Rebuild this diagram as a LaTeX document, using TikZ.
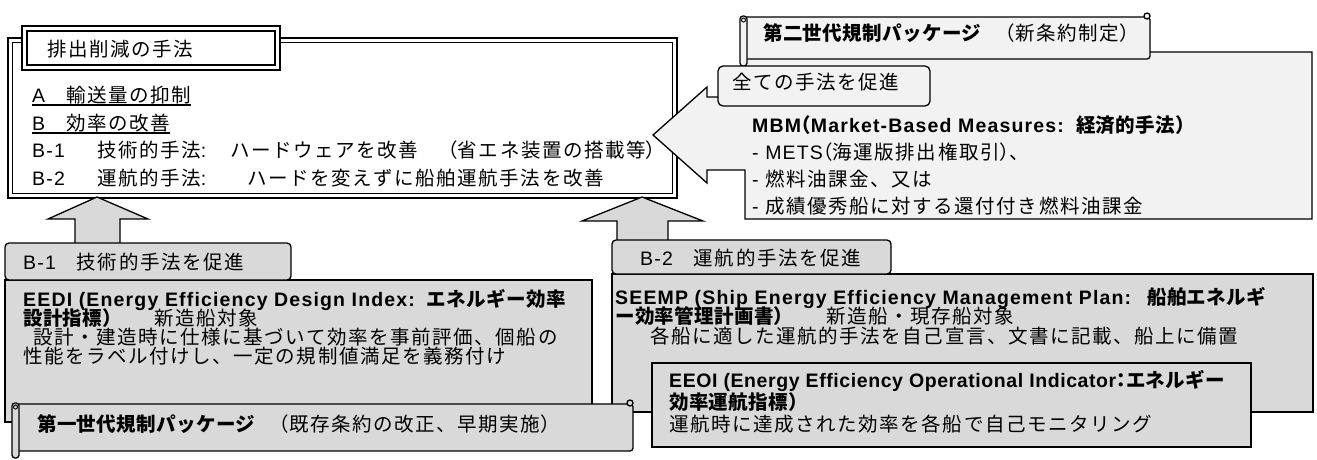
\documentclass[tikz,border=0pt]{standalone}
\usepackage{fontspec}
\setmainfont{Liberation Sans}[LetterSpace=6]
\newfontfamily\jf{Noto Sans CJK JP}[UprightFeatures={LetterSpace=8},BoldFeatures={LetterSpace=2}]
\newfontfamily\jfh{Noto Sans CJK JP}[RawFeature=+halt,UprightFeatures={LetterSpace=8},BoldFeatures={LetterSpace=2}]
\definecolor{gD}{HTML}{D9D9D9}
\definecolor{gL}{HTML}{F2F2F2}
\newcommand\fs{\fontsize{19.5pt}{19.5pt}\selectfont}
\newcommand\ulx[1]{\setbox0\hbox{#1}\rlap{\rule[-3.5pt]{\wd0}{1.3pt}}\box0}
\newcommand\tightls[1]{{\addfontfeature{LetterSpace=3}#1}}
\XeTeXinterchartokenstate=1
\newXeTeXintercharclass\jpclass
\newXeTeXintercharclass\jphclass
\newcount\jpc
\def\jprange#1#2{\jpc=#1\relax\loop\XeTeXcharclass\jpc=\jpclass\ifnum\jpc<#2\advance\jpc by 1\repeat}
\jprange{"3000}{"30FF}
\jprange{"4E00}{"9FFF}
\jprange{"FF00}{"FFEF}
\XeTeXcharclass"FF08=\jphclass
\XeTeXcharclass"FF09=\jphclass
\XeTeXcharclass"FF1A=\jphclass
\XeTeXinterchartoks 0 \jpclass = {\begingroup\jf}
\XeTeXinterchartoks 4095 \jpclass = {\begingroup\jf}
\XeTeXinterchartoks \jpclass 0 = {\endgroup}
\XeTeXinterchartoks \jpclass 4095 = {\endgroup}
\XeTeXinterchartoks 0 \jphclass = {\begingroup\jfh}
\XeTeXinterchartoks 4095 \jphclass = {\begingroup\jfh}
\XeTeXinterchartoks \jphclass 0 = {\endgroup}
\XeTeXinterchartoks \jphclass 4095 = {\endgroup}
\XeTeXinterchartoks \jpclass \jphclass = {\endgroup\begingroup\jfh}
\XeTeXinterchartoks \jphclass \jpclass = {\endgroup\begingroup\jf}
\newcommand\myscroll[5]{%
  \draw[ln, fill=#5, rounded corners=3pt] (#1+4,#2) -- (#3,#2) -- (#3,#4) -- (#1+4,#4) -- cycle;
  \draw[ln, fill=#5] (#3-3,#2-1) circle (3);
  \draw[ln, fill=#5, rounded corners=3pt] (#1,#2-1) rectangle (#1+7,#4+7);
  \draw[line width=1pt] (#1+3.5,#2+3) circle (2);
}
\begin{document}
\begin{tikzpicture}[x=1pt,y=-1pt,
  t/.style={anchor=base west, inner sep=0pt, font=\fs},
  ln/.style={line width=1.3pt, line join=miter}]
\useasboundingbox (0,0) rectangle (1317,459);
% main box
\fill[white] (8,38) rectangle (677,198);
\draw[line width=2pt] (8,38) rectangle (677,198);
\draw[line width=1.2pt] (12.5,42.5) rectangle (672.5,193.5);
\draw[line width=2pt, fill=white] (22,26) rectangle (280,70);
\draw[line width=1.6pt] (27,31) rectangle (275,65);
\node[t] (ttl) at (47,56) {排出削減の手法};
\node[t] (la) at (32,102) {\ulx{A　輸送量の抑制}};
\node[t] (lb) at (32,130) {\ulx{B　効率の改善}};
\node[t] (lb1) at (32,157) {\makebox[65pt][l]{B-1}\makebox[133pt][l]{技術的手法:}\makebox[218pt][l]{ハードウェアを改善}（省エネ装置の搭載等）};
\node[t] (lb2) at (32,185) {\makebox[65pt][l]{B-2}\makebox[150pt][l]{運航的手法:}ハードを変えずに船舶運航手法を改善};
% MBM callout
\draw[ln, fill=gL] (745,52) -- (1312,52) -- (1312,219) -- (745,219) -- (745,170) -- (707,170) -- (707,183) -- (653,135) -- (707,87) -- (707,97) -- (745,97) -- cycle;
\myscroll{740}{17}{1150}{59}{gL}
\node[t] (s2) at (763,40) {\textbf{第二世代規制パッケージ}\hspace{24pt}（新条約制定）};
\draw[ln, fill=gL, rounded corners=5pt] (718,66) rectangle (930,106);
\node[t] (all) at (732,89) {全ての手法を促進};
\node[t] (m1) at (752,132) {\textbf{MBM（Market-Based Measures:\hspace{12pt}経済的手法）}};
\node[t] (m2) at (752,159) {-\ METS（海運版排出権取引）、};
\node[t] (m3) at (752,186) {-\ 燃料油課金、又は};
\node[t] (m4) at (752,213) {-\ 成績優秀船に対する還付付き燃料油課金};
% up arrows
\draw[ln, fill=gD] (97,197) -- (148,219) -- (120,219) -- (120,250) -- (75,250) -- (75,219) -- (48,219) -- cycle;
\draw[ln, fill=gD] (642,197) -- (703,221) -- (668,221) -- (668,245) -- (617,245) -- (617,221) -- (582,221) -- cycle;
% EEDI
\draw[ln, fill=gD] (5,280) rectangle (592,422);
\draw[ln, fill=gD, rounded corners=4pt] (5,243) rectangle (291,280);
\node[t] (b1) at (23,269) {B-1　技術的手法を促進};
\node[t] (e1) at (23,306) {\textbf{EEDI (Energy Efficiency Design Index:\hspace{12pt}エネルギー効率}};
\node[t] (e2) at (23,325) {\textbf{設計指標）}　　新造船対象};
\node[t] (e3) at (33,344) {設計・建造時に仕様に基づいて効率を事前評価、個船の};
\node[t] (e4) at (23,363) {性能をラベル付けし、一定の規制値満足を義務付け};
% SEEMP
\draw[ln, fill=gD] (612,274) rectangle (1313,412);
\draw[ln, fill=gD, rounded corners=4pt] (612,240) rectangle (891,274);
\node[t] (b2) at (640,265) {B-2　運航的手法を促進};
\node[t] (p1) at (615,304) {\textbf{SEEMP (Ship Energy Efficiency Management Plan:\hspace{16pt}船舶エネルギ}};
\node[t] (p2) at (615,323) {\textbf{ー効率管理計画書）}　　新造船・現存船対象};
\node[t] (p3) at (650,343) {各船に適した運航的手法を自己宣言、文書に記載、船上に備置};
% EEOI
\draw[ln, fill=gD] (652,363) rectangle (1251,447);
\node[t] (o1) at (669,387) {\textbf{\tightls{EEOI (Energy Efficiency Operational Indicator}：エネルギー}};
\node[t] (o2) at (669,409) {\textbf{効率運航指標）}};
\node[t] (o3) at (669,431) {運航時に達成された効率を各船で自己モニタリング};
% first generation scroll
\myscroll{12}{404}{633}{451}{gD}
\node[t] (s1) at (37,431) {\textbf{第一世代規制パッケージ}\hspace{24pt}（既存条約の改正、早期実施）};
\end{tikzpicture}
\end{document}
